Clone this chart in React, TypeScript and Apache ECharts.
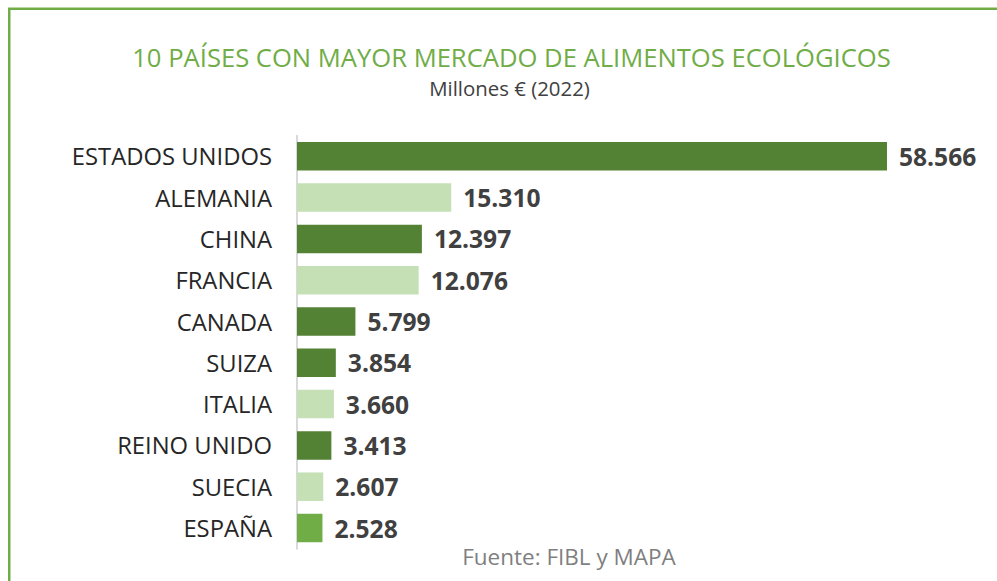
import React, { useEffect, useRef } from "react";
import * as echarts from "echarts";

const countries = [
  "ESTADOS UNIDOS",
  "ALEMANIA",
  "CHINA",
  "FRANCIA",
  "CANADA",
  "SUIZA",
  "ITALIA",
  "REINO UNIDO",
  "SUECIA",
  "ESPAÑA",
];
const values = [58566, 15310, 12397, 12076, 5799, 3854, 3660, 3413, 2607, 2528];
const groups = ["other", "eu", "other", "eu", "other", "other", "eu", "other", "eu", "es"];
const titleText = "10 PAÍSES CON MAYOR MERCADO DE ALIMENTOS ECOLÓGICOS";
const subtitleText = "Millones € (2022)";
const sourceText = "Fuente: FIBL y MAPA";

const groupColors: Record<string, string> = {
  other: "#548235",
  eu: "#C5E0B4",
  es: "#70AD47",
};

const fmt = (v: number) => String(v).replace(/\B(?=(\d{3})+(?!\d))/g, ".");

export default function App() {
  const ref = useRef<HTMLDivElement>(null);
  useEffect(() => {
    if (!ref.current) return;
    const chart = echarts.init(ref.current, undefined, { renderer: "svg" });
    const font = '"Open Sans", sans-serif';
    chart.setOption({
      animation: false,
      backgroundColor: "#ffffff",
      grid: { left: 297, right: 45.2, top: 135.65, height: 413, containLabel: false },
      xAxis: {
        type: "value",
        min: 0,
        max: 65000,
        show: false,
        splitLine: { show: false },
      },
      yAxis: {
        type: "category",
        inverse: true,
        data: countries,
        axisLine: { show: true, lineStyle: { color: "#D9D9D9", width: 2 } },
        axisTick: { show: false },
        axisLabel: {
          fontFamily: font,
          fontSize: 23.8,
          color: "#262626",
          margin: 25,
        },
      },
      series: [
        {
          type: "bar",
          barCategoryGap: "31%",
          data: values.map((v, i) => ({
            value: v,
            itemStyle: { color: groupColors[groups[i]] },
          })),
          label: {
            show: true,
            position: "right",
            distance: 12,
            fontFamily: font,
            fontSize: 24.6,
            fontWeight: "bold",
            color: "#404040",
            formatter: (p: any) => fmt(p.value),
          },
        },
      ],
      graphic: [
        {
          type: "rect",
          silent: true,
          shape: { x: 9.25, y: 8.75, width: 1200, height: 900 },
          style: { fill: "none", stroke: "#70AD47", lineWidth: 2.5 },
        },
        {
          type: "text",
          silent: true,
          x: 511.5,
          y: 57,
          style: {
            text: titleText,
            fill: "#70AD47",
            fontFamily: font,
            fontSize: 25.6,
            align: "center",
            verticalAlign: "middle",
          },
        },
        {
          type: "text",
          silent: true,
          x: 509.5,
          y: 88,
          style: {
            text: subtitleText,
            fill: "#404040",
            fontFamily: font,
            fontSize: 20.4,
            align: "center",
            verticalAlign: "middle",
          },
        },
        {
          type: "text",
          silent: true,
          x: 569,
          y: 556,
          style: {
            text: sourceText,
            fill: "#7F7F7F",
            fontFamily: font,
            fontSize: 22.5,
            align: "center",
            verticalAlign: "middle",
          },
        },
      ],
    });
    return () => chart.dispose();
  }, []);
  return (
    <div
      ref={ref}
      style={{ position: "fixed", left: 0, top: 0, width: 997, height: 581 }}
    />
  );
}
